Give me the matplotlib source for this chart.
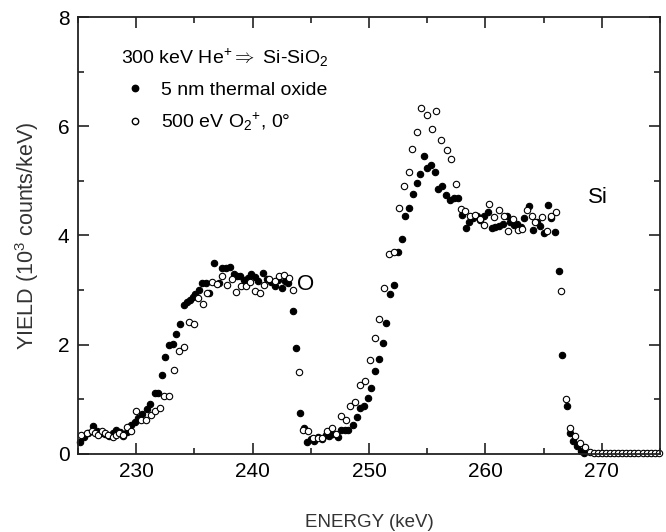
# -*- coding: utf-8 -*-
"""RBS spectra of Si-SiO2 samples (300 keV He+)"""

import matplotlib
matplotlib.use("Agg")
import matplotlib.pyplot as plt
from matplotlib.lines import Line2D
from matplotlib.ticker import MultipleLocator

# 5 nm thermal oxide (filled)
energy_thermal = [
    225.2, 225.5, 225.9, 226.3, 226.6, 227.0, 227.3, 227.7, 228.0, 228.3,
    228.6, 228.9, 229.2, 229.6, 229.9, 230.2, 230.5, 230.9, 231.2, 231.6,
    231.9, 232.2, 232.5, 232.85, 233.2, 233.45, 233.8, 234.1, 234.35, 234.6,
    234.85, 235.05, 235.4, 235.7, 236.0, 236.3, 236.7, 237.1, 237.35, 237.7,
    238.05, 238.4, 238.7, 238.95, 239.3, 239.6, 239.9, 240.2, 240.5, 240.9,
    241.2, 241.55, 241.9, 242.2, 242.5, 242.75, 243.05, 243.45, 243.75, 244.05,
    244.4, 244.7, 245.0, 245.3, 245.65, 246.0, 246.3, 246.6, 246.95, 247.3,
    247.6, 247.9, 248.2, 248.6, 248.95, 249.25, 249.6, 249.9, 250.2, 250.5,
    250.9, 251.2, 251.5, 251.8, 252.15, 252.5, 252.8, 253.1, 253.45, 253.8,
    254.1, 254.4, 254.7, 255.0, 255.35, 255.65, 255.95, 256.3, 256.65, 256.95,
    257.3, 257.65, 258.0, 258.3, 258.6, 258.9, 259.25, 259.55, 259.9, 260.2,
    260.55, 260.85, 261.15, 261.5, 261.85, 262.15, 262.45, 262.75, 263.05, 263.35,
    263.75, 264.05, 264.4, 264.7, 265.0, 265.35, 265.65, 266.0, 266.3, 266.6,
    267.0, 267.3, 267.55, 267.85, 268.2, 268.5,
]
yield_thermal = [
    0.22, 0.30, 0.38, 0.50, 0.42, 0.38, 0.36, 0.32, 0.38, 0.44,
    0.40, 0.33, 0.40, 0.53, 0.59, 0.65, 0.72, 0.82, 0.92, 1.11,
    1.11, 1.45, 1.78, 2.00, 2.01, 2.19, 2.38, 2.72, 2.78, 2.82,
    2.88, 2.93, 3.00, 3.13, 3.13, 2.94, 3.49, 3.13, 3.40, 3.40,
    3.43, 3.30, 3.26, 3.26, 3.18, 3.22, 3.30, 3.24, 3.16, 3.32,
    3.20, 3.15, 3.08, 3.18, 3.03, 3.16, 3.13, 2.61, 1.94, 0.74,
    0.47, 0.21, 0.28, 0.24, 0.30, 0.27, 0.35, 0.33, 0.36, 0.30,
    0.44, 0.44, 0.44, 0.53, 0.68, 0.84, 0.88, 1.02, 1.20, 1.51,
    1.73, 2.03, 2.39, 2.92, 3.10, 3.69, 3.94, 4.35, 4.51, 4.76,
    4.96, 5.13, 5.45, 5.24, 5.29, 5.17, 4.85, 4.90, 4.74, 4.65,
    4.68, 4.68, 4.38, 4.13, 4.24, 4.32, 4.36, 4.28, 4.35, 4.42,
    4.14, 4.16, 4.18, 4.20, 4.36, 4.25, 4.19, 4.20, 4.15, 4.32,
    4.54, 4.10, 4.24, 4.18, 4.05, 4.56, 4.32, 4.06, 3.35, 1.81,
    0.87, 0.39, 0.24, 0.15, 0.06, 0.02,
]

# 500 eV O2+, 0 deg (open)
energy_implant = [
    225.3, 225.75, 226.2, 226.5, 226.75, 227.05, 227.35, 227.6, 228.0, 228.3,
    228.55, 228.85, 229.25, 229.55, 230.0, 230.4, 230.85, 231.25, 231.6, 232.05,
    232.4, 232.85, 233.25, 233.7, 234.1, 234.5, 234.95, 235.3, 235.75, 236.1,
    236.55, 236.95, 237.4, 237.8, 238.2, 238.6, 238.98, 239.4, 239.8, 240.2,
    240.6, 241.0, 241.45, 241.9, 242.3, 242.7, 243.1, 243.5, 243.95, 244.3,
    244.75, 245.2, 245.6, 246.0, 246.4, 246.8, 247.2, 247.6, 248.0, 248.4,
    248.8, 249.25, 249.65, 250.1, 250.5, 250.9, 251.3, 251.7, 252.15, 252.6,
    252.97, 253.4, 253.7, 254.1, 254.5, 255.0, 255.4, 255.8, 256.2, 256.7,
    257.05, 257.5, 257.9, 258.25, 258.7, 259.1, 259.5, 259.9, 260.35, 260.7,
    261.2, 261.6, 261.95, 262.4, 262.8, 263.15, 263.6, 264.0, 264.3, 264.9,
    265.3, 265.65, 266.1, 266.5, 266.9, 267.3, 267.7, 268.15, 268.6, 268.95,
    269.3, 269.65, 270.0, 270.35, 270.7, 271.05, 271.4, 271.75, 272.1, 272.45,
    272.8, 273.15, 273.5, 273.85, 274.2, 274.55, 274.9,
]
yield_implant = [
    0.35, 0.38, 0.41, 0.38, 0.35, 0.41, 0.38, 0.35, 0.31, 0.35,
    0.39, 0.34, 0.49, 0.41, 0.78, 0.62, 0.62, 0.71, 0.79, 0.84,
    1.05, 1.06, 1.53, 1.89, 1.95, 2.42, 2.38, 2.86, 2.74, 2.95,
    3.14, 3.11, 3.25, 3.10, 3.20, 2.97, 3.08, 3.08, 3.14, 2.99,
    2.95, 3.10, 3.20, 3.16, 3.25, 3.28, 3.22, 3.00, 1.50, 0.44,
    0.41, 0.29, 0.29, 0.29, 0.41, 0.47, 0.36, 0.70, 0.61, 0.88,
    0.94, 1.26, 1.34, 1.71, 2.12, 2.47, 3.03, 3.66, 3.69, 4.51,
    4.90, 5.16, 5.58, 5.90, 6.34, 6.20, 5.95, 6.27, 5.75, 5.56,
    5.40, 4.94, 4.49, 4.44, 4.36, 4.38, 4.30, 4.19, 4.57, 4.33,
    4.46, 4.36, 4.08, 4.30, 4.09, 4.11, 4.47, 4.35, 4.25, 4.33,
    4.08, 4.36, 4.43, 2.99, 1.00, 0.47, 0.32, 0.20, 0.12, 0.04,
    0.02, 0.02, 0.02, 0.02, 0.02, 0.02, 0.02, 0.02, 0.02, 0.02,
    0.02, 0.02, 0.02, 0.02, 0.02, 0.02, 0.02,
]

legend_title = "300 keV He$^{+}$$\\Rightarrow$ Si-SiO$_{2}$"
label_thermal = "5 nm thermal oxide"
label_implant = "500 eV O$_{2}$$^{+}$, 0\u00b0"

plt.rcParams["font.family"] = ["Liberation Sans", "DejaVu Sans"]
plt.rcParams["mathtext.fontset"] = "custom"
plt.rcParams["mathtext.rm"] = "Liberation Sans"
plt.rcParams["mathtext.it"] = "Liberation Sans:italic"
plt.rcParams["font.size"] = 14

fig = plt.figure(figsize=(6.66, 5.32), dpi=100)
ax = fig.add_axes([0.117, 0.147, 0.874, 0.821])

ms = 4.6
ax.plot(energy_thermal, yield_thermal, "o", color="black", ms=ms,
        mec="black", mew=0.8, clip_on=False)
ax.plot(energy_implant, yield_implant, "o", color="black", ms=ms,
        mfc="white", mec="black", mew=0.8, clip_on=False)

ax.set_xlim(225, 275)
ax.set_ylim(0, 8)
ax.xaxis.set_major_locator(MultipleLocator(10))
ax.xaxis.set_minor_locator(MultipleLocator(5))
ax.yaxis.set_major_locator(MultipleLocator(2))
ax.yaxis.set_minor_locator(MultipleLocator(1))
ax.tick_params(which="both", direction="in", top=True, right=True,
               width=1.2, labelsize=15, color="#222222")
ax.tick_params(which="major", length=8, pad=6)
ax.tick_params(which="minor", length=4)
for s in ax.spines.values():
    s.set_linewidth(1.3)
    s.set_color("#222222")

ax.set_xlabel("ENERGY (keV)", fontsize=13.5, color="#333333", labelpad=24)
ax.set_ylabel("YIELD (10$^{3}$ counts/keV)", fontsize=15.5, color="#333333",
              labelpad=12)

ax.text(244.6, 3.1, "O", fontsize=16, ha="center", va="center")
ax.text(269.7, 4.7, "Si", fontsize=16, ha="center", va="center")

handles = [
    Line2D([], [], ls="none", marker="o", color="black", ms=ms),
    Line2D([], [], ls="none", marker="o", color="black", mfc="white", ms=ms),
]
leg = ax.legend(handles, [label_thermal, label_implant], title=legend_title,
                loc="upper left", bbox_to_anchor=(0.06, 0.95), frameon=False,
                fontsize=14, title_fontsize=14, handletextpad=0.6,
                handlelength=1.5, labelspacing=0.62, borderaxespad=0)
leg._legend_box.align = "left"
leg._legend_box.sep = 9

fig.savefig("out.png", dpi=100)
